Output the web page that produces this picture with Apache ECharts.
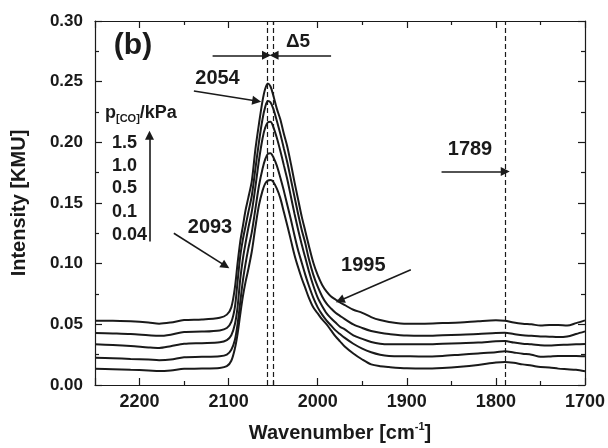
<!DOCTYPE html>
<html>
<head>
<meta charset="utf-8">
<script src="https://cdn.jsdelivr.net/npm/echarts@6/dist/echarts.min.js"></script>
<style>
html,body{margin:0;padding:0;background:#fff;}
#chart{width:608px;height:448px;}
</style>
</head>
<body>
<div id="chart"></div>
<script>
// Wavenumber sample positions (cm^-1)
const wavenumbers = [2250,2230,2210,2190,2178,2165,2150,2130,2110,2102,
  2097,2093,2090,2087,2084,2081,2078,2074,2070,2066,
  2062,2059,2056,2053,2050,2046,2042,2038,2034,2030,
  2026,2022,2018,2014,2010,2005,2000,1995,1990,1985,
  1980,1975,1970,1960,1950,1940,1930,1920,1900,1880,
  1860,1840,1820,1800,1790,1780,1770,1760,1750,1740,
  1730,1720,1710,1700];

// Intensity [KMU] for each CO pressure
const p150 = [.053,.053,.0525,.0515,.0505,.0515,.0535,.054,.0555,.058,
  .064,.080,.100,.118,.131,.144,.154,.168,.194,.215,
  .234,.244,.2485,.246,.239,.228,.219,.207,.196,.182,
  .167,.153,.139,.127,.115,.101,.0905,.0825,.077,.073,
  .0705,.068,.066,.062,.0595,.056,.0535,.052,.0505,.0505,
  .051,.0515,.0525,.0533,.053,.0515,.0505,.050,.049,.0495,
  .0495,.049,.051,.0533];
const p100 = [.0429,.0425,.042,.041,.0405,.0415,.0437,.044,.045,.047,
  .052,.064,.085,.106,.120,.131,.142,.156,.178,.200,
  .219,.229,.234,.233,.228,.218,.207,.195,.183,.169,
  .155,.141,.128,.117,.104,.091,.081,.073,.067,.063,
  .0595,.057,.0545,.050,.047,.0445,.043,.042,.0407,.0405,
  .041,.0415,.042,.0429,.043,.042,.041,.0405,.040,.0398,
  .0395,.040,.042,.0442];
const p050 = [.0335,.033,.0322,.031,.0305,.032,.0339,.0345,.0352,.037,
  .041,.050,.064,.087,.104,.117,.129,.143,.163,.185,
  .203,.212,.2165,.217,.213,.204,.193,.181,.169,.155,
  .141,.128,.116,.105,.094,.082,.072,.065,.059,.055,
  .0515,.048,.046,.041,.038,.0355,.034,.0335,.0335,.0335,
  .034,.0345,.035,.036,.0362,.035,.034,.0335,.0327,.0325,
  .033,.0332,.0335,.0337];
const p010 = [.0224,.022,.0215,.021,.0205,.021,.0229,.0232,.0237,.025,
  .029,.037,.050,.068,.086,.100,.112,.126,.145,.164,
  .178,.186,.1905,.191,.188,.181,.171,.160,.148,.136,
  .123,.111,.101,.091,.082,.072,.064,.058,.053,.049,
  .045,.042,.039,.034,.030,.027,.025,.024,.0237,.0235,
  .024,.025,.026,.027,.0278,.0268,.0258,.025,.0232,.0235,
  .024,.0238,.024,.0237];
const p004 = [.0133,.013,.0125,.012,.0115,.012,.0133,.0135,.0141,.0155,
  .020,.030,.042,.058,.073,.085,.095,.110,.130,.148,
  .160,.166,.1685,.169,.1675,.162,.154,.1425,.131,.119,
  .107,.097,.088,.080,.072,.064,.059,.054,.050,.045,
  .040,.036,.032,.026,.021,.017,.0155,.0148,.0138,.0135,
  .014,.015,.0165,.0185,.019,.0183,.017,.016,.0148,.0145,
  .0135,.013,.0125,.0113];

const seriesNames = ['1.5','1.0','0.5','0.1','0.04'];
const seriesValues = [p150,p100,p050,p010,p004];

// Reference positions (dashed lines)
const dashedLines = [2056.5, 2050, 1789];

// Annotation arrows [[x1,y1],[x2,y2]] in data units
const arrows = [
  [[2118,0.2717],[2057.5,0.2717]],
  [[1985,0.2717],[2049,0.2717]],
  [[2139,0.2423],[2068.5,0.2341]],
  [[2161.5,0.1251],[2103.5,0.0982]],
  [[1895.5,0.0949],[1975,0.0697]],
  [[1861,0.1759],[1789.5,0.1759]],
  [[2188.8,0.1182],[2188.8,0.2059]]
];

const pressureLabels = ['1.5','1.0','0.5','0.1','0.04'];

const FONT = '"Liberation Sans", Arial, sans-serif';
const INK = '#1a1a1a';

const chart = echarts.init(document.getElementById('chart'), null, {renderer:'canvas'});

const baseX = {
  type:'value', min:1700, max:2250, interval:100, inverse:true,
  axisLine:{show:true, onZero:false, lineStyle:{color:INK, width:1.2}},
  axisTick:{show:true, inside:true, length:7, lineStyle:{color:INK, width:1.2}},
  minorTick:{show:true, splitNumber:2, length:4, lineStyle:{color:INK, width:1.2}},
  splitLine:{show:false}, minorSplitLine:{show:false}
};
const baseY = {
  type:'value', min:0, max:0.3, interval:0.05,
  axisLine:{show:true, onZero:false, lineStyle:{color:INK, width:1.2}},
  axisTick:{show:true, inside:true, length:7, lineStyle:{color:INK, width:1.2}},
  minorTick:{show:true, splitNumber:2, length:4, lineStyle:{color:INK, width:1.2}},
  splitLine:{show:false}, minorSplitLine:{show:false}
};

const series = seriesValues.map((vals, k) => ({
  name: seriesNames[k],
  type:'line',
  data: wavenumbers.map((w,i)=>[w, vals[i]]),
  showSymbol:false,
  smooth:0.3,
  lineStyle:{color:INK, width:2},
  z:3
}));

series.push({
  type:'line', data:[], silent:true,
  markLine:{
    silent:true, symbol:['none','none'], animation:false,
    label:{show:false},
    lineStyle:{color:INK, type:[5,3], width:1.2},
    data: dashedLines.map(v=>({xAxis:v}))
  }
});
series.push({
  type:'line', data:[], silent:true,
  markLine:{
    silent:true, symbol:['none','triangle'], symbolSize:9, animation:false,
    label:{show:false},
    lineStyle:{color:INK, type:'solid', width:1.6},
    itemStyle:{color:INK},
    data: arrows.map(a=>[{coord:a[0]},{coord:a[1]}])
  }
});

function txt(text, x, y, size, align) {
  return {type:'text', silent:true, style:{text, x, y, fill:INK,
    font:'bold '+size+'px '+FONT, textAlign:align||'center', textVerticalAlign:'middle'}};
}

const graphics = [
  txt('(b)', 133, 46, 30),
  txt('Δ5', 298, 42, 19),
  txt('2054', 217.5, 78, 20),
  txt('2093', 210, 227.5, 20),
  txt('1995', 363.3, 265, 20),
  txt('1789', 470, 149, 20),
  {type:'text', silent:true, style:{
    text:'{a|p}{b|[CO]}{a|/kPa}', x:105, y:113, textVerticalAlign:'middle', fill:INK,
    rich:{
      a:{font:'bold 18px '+FONT, fill:INK, lineHeight:22},
      b:{font:'bold 11px '+FONT, fill:INK, verticalAlign:'bottom', lineHeight:12}
    }
  }}
];
const listY = [143.3, 165.7, 188.5, 211.7, 235];
pressureLabels.forEach((t,i)=>graphics.push(txt(t, 112, listY[i], 18, 'left')));

chart.setOption({
  animation:false,
  backgroundColor:'#fff',
  grid:{left:95, right:23, top:21, bottom:62, containLabel:false},
  xAxis:[
    Object.assign({}, baseX, {
      position:'bottom',
      axisLabel:{show:true, color:INK, fontFamily:FONT, fontWeight:'bold', fontSize:18, margin:8,
        showMaxLabel:false, showMinLabel:true,
        formatter:v=>(v>=2250 ? '' : String(Math.round(v)))},
      name:'{a|Wavenumber [cm}{s|-1}{a|]}', nameLocation:'middle', nameGap:36,
      nameTextStyle:{rich:{
        a:{fontFamily:FONT, fontWeight:'bold', fontSize:20, color:INK, lineHeight:24},
        s:{fontFamily:FONT, fontWeight:'bold', fontSize:11, color:INK, verticalAlign:'top', lineHeight:12}
      }}
    }),
    Object.assign({}, baseX, {position:'top', axisLabel:{show:false}})
  ],
  yAxis:[
    Object.assign({}, baseY, {
      position:'left',
      axisLabel:{show:true, color:INK, fontFamily:FONT, fontWeight:'bold', fontSize:17, margin:12,
        formatter:v=>v.toFixed(2)},
      name:'Intensity [KMU]', nameLocation:'middle', nameGap:66,
      nameTextStyle:{fontFamily:FONT, fontWeight:'bold', fontSize:20, color:INK}
    }),
    Object.assign({}, baseY, {position:'right', axisLabel:{show:false}})
  ],
  series,
  graphic:graphics
});
</script>
</body>
</html>
